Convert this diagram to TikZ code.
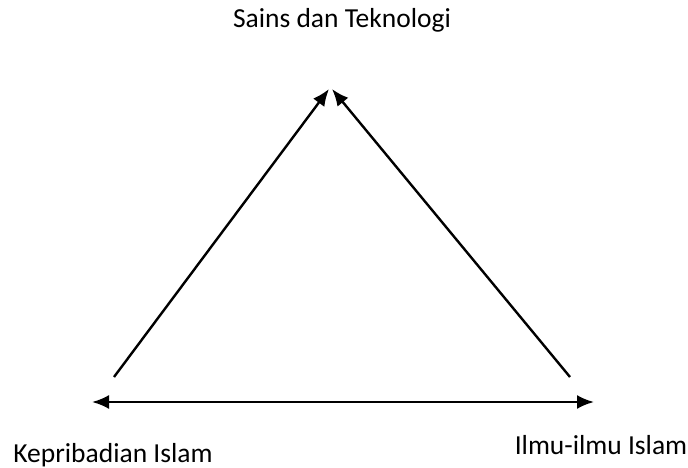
\documentclass[tikz,border=0pt]{standalone}
\usepackage{fontspec}
\setmainfont{Carlito}
\usepackage{tikz}
\usetikzlibrary{arrows.meta, positioning}

\begin{document}
\begin{tikzpicture}[
  x=1pt, y=-1pt,
  every node/.style={font=\fontsize{27.5}{32}\selectfont, inner sep=0pt},
  label text/.style={anchor=base},
  link/.style={-{Latex[length=17pt, width=14pt]}, line width=2.4pt},
  both link/.style={{Latex[length=17pt, width=14pt]}-{Latex[length=17pt, width=14pt]}, line width=2.4pt}
]
  \useasboundingbox (0,0) rectangle (688,468);

  \node[label text] (ST) at (342,28) {Sains dan Teknologi};
  \node[label text] (KI) at (113,462) {Kepribadian Islam};
  \node[label text] (II) at (601,454) {Ilmu-ilmu Islam};

  % arrow ends
  \coordinate (KIup) at (114,377);
  \coordinate (IIup) at (570,377);
  \coordinate (STl) at (329,89);
  \coordinate (STr) at (332,89);
  \coordinate (KIside) at (92,402);
  \coordinate (IIside) at (594,402);

  \draw[link] (KIup) -- (STl);
  \draw[link] (IIup) -- (STr);
  \draw[both link] (KIside) -- (IIside);
\end{tikzpicture}
\end{document}
